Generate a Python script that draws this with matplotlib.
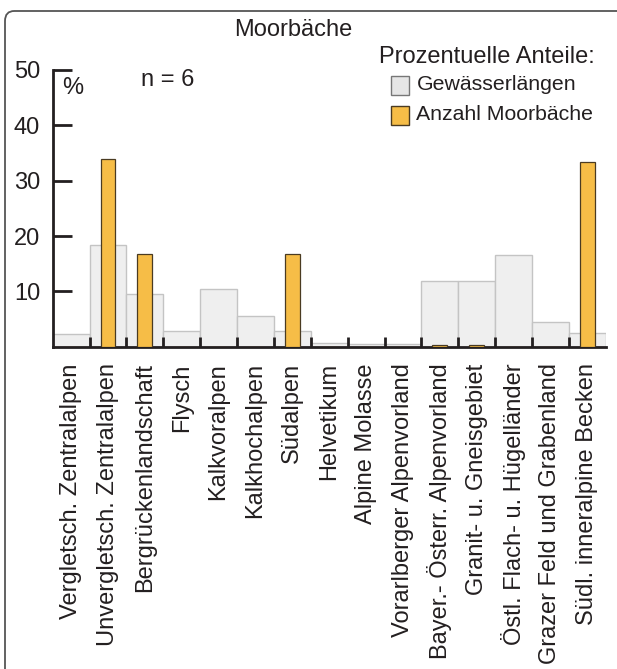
import matplotlib
matplotlib.use("Agg")
import matplotlib.pyplot as plt
from matplotlib.patches import Rectangle, FancyBboxPatch

plt.rcParams['font.family'] = ['Liberation Sans', 'DejaVu Sans']

regions = ["Vergletsch. Zentralalpen", "Unvergletsch. Zentralalpen", "Bergrückenlandschaft",
           "Flysch", "Kalkvoralpen", "Kalkhochalpen", "Südalpen", "Helvetikum", "Alpine Molasse",
           "Vorarlberger Alpenvorland", "Bayer.- Österr. Alpenvorland", "Granit- u. Gneisgebiet",
           "Östl. Flach- u. Hügelländer", "Grazer Feld und Grabenland", "Südl. inneralpine Becken"]
gewaesser = [2.3, 18.4, 9.5, 2.8, 10.4, 5.5, 2.8, 0.6, 0.5, 0.4, 11.9, 11.8, 16.6, 4.4, 2.4]
moorbaeche = [0, 34.0, 16.7, 0, 0, 0, 16.8, 0, 0, 0, 0.3, 0.3, 0, 0, 33.4]
yticks = [10, 20, 30, 40, 50]

W, H = 617, 669
ink = "#231f20"
fs = 17
fig = plt.figure(figsize=(W / 100, H / 100), dpi=100)

def fx(px):
    return px / W

def fy(py):
    return 1 - py / H

# rahmen
fig.patches.append(FancyBboxPatch((fx(5), fy(700)), fx(630), fy(11) - fy(700),
                                  boxstyle="round,pad=0,rounding_size=0.015",
                                  transform=fig.transFigure, fill=False,
                                  edgecolor="#555555", lw=1.3))

ax = fig.add_axes([fx(52.7), fy(346.7), fx(605.7) - fx(52.7), fy(70) - fy(346.7)])
x = list(range(len(regions)))
ax.bar(x, gewaesser, width=1.0, color="#efefef", edgecolor="#c4c4c4", lw=1, zorder=2)
ax.bar(x, moorbaeche, width=0.4, color="#f6bd47", edgecolor="#4a3b22", lw=0.9, zorder=3)
ax.set_axisbelow(False)

ax.set_xlim(-0.5, len(regions) - 0.5)
ax.set_ylim(0, 50)
for s in ["top", "right"]:
    ax.spines[s].set_visible(False)
for s in ["left", "bottom"]:
    ax.spines[s].set_linewidth(2)
    ax.spines[s].set_color(ink)

ax.set_yticks(yticks)
ax.set_yticklabels([str(v) for v in yticks], fontsize=fs, color=ink)
ax.tick_params(axis="y", direction="in", length=14, width=2, color=ink, pad=9)
ax.set_xticks([i + 0.5 for i in range(len(regions) - 1)])
ax.set_xticklabels([])
ax.tick_params(axis="x", which="major", direction="in", length=7, width=2, color=ink)
ax.set_xticks(x, minor=True)
ax.set_xticklabels(regions, minor=True, rotation=90, fontsize=fs, color=ink, va="top")
ax.tick_params(axis="x", which="minor", length=0, pad=12)

fig.text(fx(293), fy(30), "Moorbäche", fontsize=fs, color=ink, ha="center", va="center")
fig.text(fx(73), fy(88), "%", fontsize=fs, color=ink, ha="center", va="center")
fig.text(fx(168), fy(80), "n = 6", fontsize=fs, color=ink, ha="center", va="center")

# legende
fig.text(fx(379), fy(57), "Prozentuelle Anteile:", fontsize=fs, color=ink, ha="left", va="center")
fig.patches.append(Rectangle((fx(391), fy(94.5)), fx(18), fy(76) - fy(94.5), transform=fig.transFigure,
                             facecolor="#e6e6e6", edgecolor="#777777", lw=1))
fig.text(fx(416.5), fy(85), "Gewässerlängen", fontsize=15.3, color=ink, ha="left", va="center")
fig.patches.append(Rectangle((fx(391), fy(124.5)), fx(18), fy(106) - fy(124.5), transform=fig.transFigure,
                             facecolor="#f6bd47", edgecolor="#4a3b22", lw=1))
fig.text(fx(416.5), fy(114), "Anzahl Moorbäche", fontsize=15.3, color=ink, ha="left", va="center")

fig.savefig("out.png", dpi=100)
